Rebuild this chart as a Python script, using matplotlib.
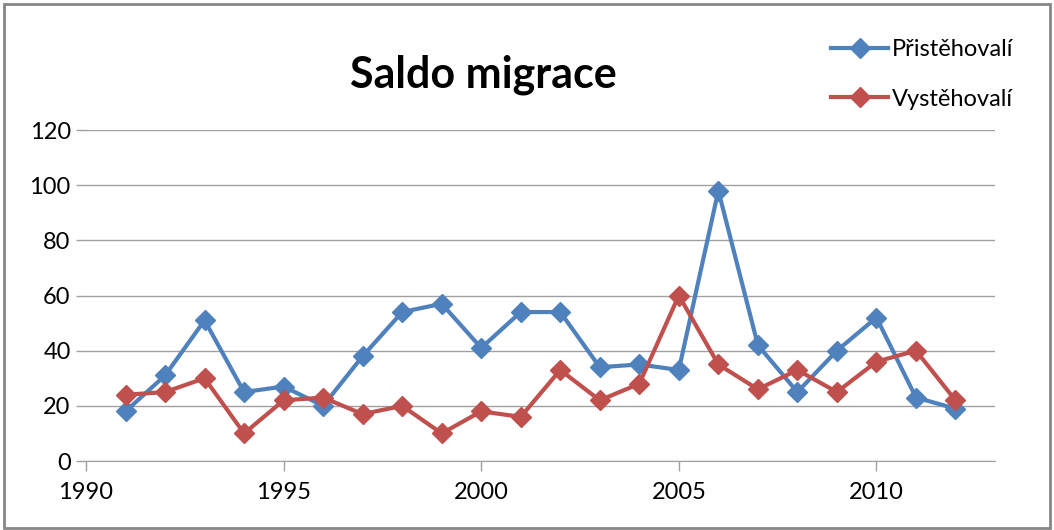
import matplotlib.pyplot as plt
from matplotlib.patches import Rectangle

years = list(range(1991, 2013))
pristehovali = [18, 31, 51, 25, 27, 20, 38, 54, 57, 41, 54, 54, 34, 35, 33, 98, 42, 25, 40, 52, 23, 19]
vystehovali = [24, 25, 30, 10, 22, 23, 17, 20, 10, 18, 16, 33, 22, 28, 60, 35, 26, 33, 25, 36, 40, 22]
series_names = ['Přistěhovalí', 'Vystěhovalí']

plt.rcParams['font.family'] = ['Lato', 'DejaVu Sans']

fig = plt.figure(figsize=(10.54, 5.30), dpi=100)
ax = fig.add_axes([86 / 1054, 69 / 530, 909 / 1054, 331 / 530])

# grey border around the whole chart
fig.patches.append(Rectangle((4 / 1054, 2 / 530), 1046 / 1054, 524 / 530,
                             transform=fig.transFigure, fill=False,
                             edgecolor='#868686', linewidth=2))

ax.plot(years, pristehovali, color='#4F81BD', lw=3, marker='D', ms=10,
        label=series_names[0], zorder=3)
ax.plot(years, vystehovali, color='#C0504D', lw=3, marker='D', ms=10,
        label=series_names[1], zorder=3)

ax.set_xlim(1990, 2013)
ax.set_ylim(0, 120)
ax.set_xticks(range(1990, 2011, 5))
ax.set_yticks(range(0, 121, 20))
ax.grid(axis='y', color='#A0A0A0', lw=1)
ax.set_axisbelow(True)

for s in ['top', 'right', 'left']:
    ax.spines[s].set_visible(False)
ax.spines['bottom'].set_color('#A0A0A0')
ax.tick_params(axis='both', colors='#A0A0A0', labelcolor='black', labelsize=17,
               length=7, width=1)
ax.tick_params(axis='y', pad=4)
ax.tick_params(axis='x', pad=8)

fig.text(483 / 1054, 1 - 75 / 530, 'Saldo migrace', ha='center', va='center',
         fontsize=31, fontweight='bold')

ax.legend(loc='upper left', bbox_to_anchor=(810 / 1054, 1 - 18 / 530),
          bbox_transform=fig.transFigure, frameon=False, fontsize=17,
          handlelength=2.4, labelspacing=1.2, handletextpad=0.15)

fig.savefig('out.png', dpi=100)
